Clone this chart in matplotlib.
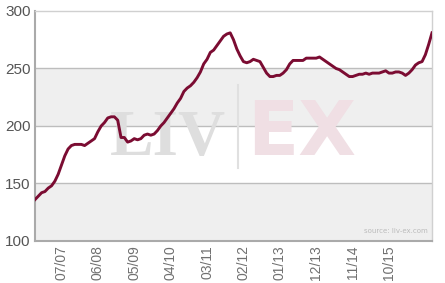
import matplotlib
matplotlib.use('Agg')
import matplotlib.pyplot as plt
import pandas as pd

# monthly index values, Nov 2006 - Nov 2016
months = pd.date_range('2006-11-01', periods=121, freq='MS')
values = [
    136, 139, 142, 143, 146, 148, 152, 158, 166, 174,
    180, 183, 184, 184, 184, 183, 185, 187, 189, 195,
    200, 203, 207, 208, 208, 205, 190, 190, 186, 187,
    189, 188, 189, 192, 193, 192, 193, 196, 200, 203,
    207, 211, 215, 220, 224, 230, 233, 235, 238, 242,
    247, 254, 258, 264, 266, 270, 274, 278, 280, 281,
    275, 267, 261, 256, 255, 256, 258, 257, 256, 251,
    246, 243, 243, 244, 244, 246, 249, 254, 257, 257,
    257, 257, 259, 259, 259, 259, 260, 258, 256, 254,
    252, 250, 249, 247, 245, 243, 243, 244, 245, 245,
    246, 245, 246, 246, 246, 247, 248, 246, 246, 247,
    247, 246, 244, 246, 249, 253, 255, 256, 262, 271,
    281,
]
tick_idx = [8, 19, 30, 41, 52, 63, 74, 85, 96, 107]
y_ticks = [100, 150, 200, 250, 300]

fig = plt.figure(figsize=(4.45, 2.83), dpi=100)
ax = fig.add_axes([35 / 445, 42 / 283, 397 / 445, 230 / 283])

x = list(range(len(values)))
ax.set_xlim(0, len(values) - 1)
ax.set_ylim(100, 300)

# alternating bands
for lo in (100, 200):
    ax.axhspan(lo, lo + 50, color='#efefef', zorder=0, lw=0)
for v in (150, 200, 250):
    ax.axhline(v, color='#bdbdbd', lw=1, zorder=1)

# watermark
ax.text(0.335, 0.374, 'LIV', transform=ax.transAxes, fontsize=47,
        family='Liberation Serif', fontweight='bold', color='#dedede',
        ha='center', va='baseline', zorder=1)
ax.plot([0.511, 0.511], [0.317, 0.678], transform=ax.transAxes,
        color='#e0e0e0', lw=1.5, zorder=1)
ax.text(0.673, 0.374, 'EX', transform=ax.transAxes, fontsize=54,
        family='DejaVu Sans', fontweight='bold', color='#f0dfe4',
        ha='center', va='baseline', zorder=1)
ax.text(0.99, 0.03, 'source: liv-ex.com', transform=ax.transAxes,
        fontsize=5, color='#bbbbbb', ha='right', va='bottom')

ax.plot(x, values, color='#7b0c32', lw=2.1, zorder=3, solid_joinstyle='round')

ax.set_yticks(y_ticks)
ax.set_yticklabels([str(v) for v in y_ticks], fontsize=11,
                   color='#555555', family='Liberation Sans')
ax.set_xticks(tick_idx)
ax.set_xticklabels([months[i].strftime('%m/%y') for i in tick_idx],
                   rotation=90, fontsize=10, color='#707070',
                   family='Liberation Sans')
ax.tick_params(length=0, pad=3)

for side in ('left', 'bottom'):
    ax.spines[side].set_color('#aaaaaa')
    ax.spines[side].set_linewidth(1.5)
for side in ('top', 'right'):
    ax.spines[side].set_color('#d0d0d0')
    ax.spines[side].set_linewidth(1)

fig.savefig('out.png', dpi=100)
